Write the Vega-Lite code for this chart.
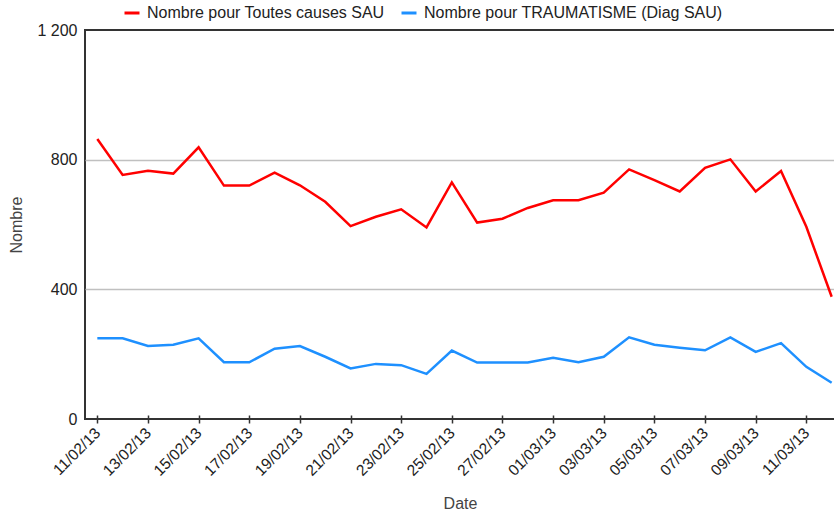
{
  "$schema": "https://vega.github.io/schema/vega-lite/v6.json",
  "autosize": {"type": "none"},
  "padding": {"left": 85, "top": 30, "right": 0, "bottom": 95},
  "width": 750,
  "height": 389,
  "background": "white",
  "config": {
    "font": "Liberation Sans",
    "view": {"stroke": "#333333", "strokeWidth": 2}
  },
  "data": {
    "values": [
      {"date": "2013-02-11", "serie": "Nombre pour Toutes causes SAU", "value": 864},
      {"date": "2013-02-12", "serie": "Nombre pour Toutes causes SAU", "value": 753},
      {"date": "2013-02-13", "serie": "Nombre pour Toutes causes SAU", "value": 766},
      {"date": "2013-02-14", "serie": "Nombre pour Toutes causes SAU", "value": 757},
      {"date": "2013-02-15", "serie": "Nombre pour Toutes causes SAU", "value": 838},
      {"date": "2013-02-16", "serie": "Nombre pour Toutes causes SAU", "value": 720},
      {"date": "2013-02-17", "serie": "Nombre pour Toutes causes SAU", "value": 720},
      {"date": "2013-02-18", "serie": "Nombre pour Toutes causes SAU", "value": 760},
      {"date": "2013-02-19", "serie": "Nombre pour Toutes causes SAU", "value": 721},
      {"date": "2013-02-20", "serie": "Nombre pour Toutes causes SAU", "value": 670},
      {"date": "2013-02-21", "serie": "Nombre pour Toutes causes SAU", "value": 595},
      {"date": "2013-02-22", "serie": "Nombre pour Toutes causes SAU", "value": 624},
      {"date": "2013-02-23", "serie": "Nombre pour Toutes causes SAU", "value": 647},
      {"date": "2013-02-24", "serie": "Nombre pour Toutes causes SAU", "value": 591},
      {"date": "2013-02-25", "serie": "Nombre pour Toutes causes SAU", "value": 730},
      {"date": "2013-02-26", "serie": "Nombre pour Toutes causes SAU", "value": 606},
      {"date": "2013-02-27", "serie": "Nombre pour Toutes causes SAU", "value": 618},
      {"date": "2013-02-28", "serie": "Nombre pour Toutes causes SAU", "value": 651},
      {"date": "2013-03-01", "serie": "Nombre pour Toutes causes SAU", "value": 675},
      {"date": "2013-03-02", "serie": "Nombre pour Toutes causes SAU", "value": 675},
      {"date": "2013-03-03", "serie": "Nombre pour Toutes causes SAU", "value": 698},
      {"date": "2013-03-04", "serie": "Nombre pour Toutes causes SAU", "value": 770},
      {"date": "2013-03-05", "serie": "Nombre pour Toutes causes SAU", "value": 737},
      {"date": "2013-03-06", "serie": "Nombre pour Toutes causes SAU", "value": 702},
      {"date": "2013-03-07", "serie": "Nombre pour Toutes causes SAU", "value": 775},
      {"date": "2013-03-08", "serie": "Nombre pour Toutes causes SAU", "value": 801},
      {"date": "2013-03-09", "serie": "Nombre pour Toutes causes SAU", "value": 702},
      {"date": "2013-03-10", "serie": "Nombre pour Toutes causes SAU", "value": 765},
      {"date": "2013-03-11", "serie": "Nombre pour Toutes causes SAU", "value": 593},
      {"date": "2013-03-12", "serie": "Nombre pour Toutes causes SAU", "value": 377},
      {"date": "2013-02-11", "serie": "Nombre pour TRAUMATISME (Diag SAU)", "value": 249},
      {"date": "2013-02-12", "serie": "Nombre pour TRAUMATISME (Diag SAU)", "value": 249},
      {"date": "2013-02-13", "serie": "Nombre pour TRAUMATISME (Diag SAU)", "value": 225},
      {"date": "2013-02-14", "serie": "Nombre pour TRAUMATISME (Diag SAU)", "value": 229},
      {"date": "2013-02-15", "serie": "Nombre pour TRAUMATISME (Diag SAU)", "value": 249},
      {"date": "2013-02-16", "serie": "Nombre pour TRAUMATISME (Diag SAU)", "value": 175},
      {"date": "2013-02-17", "serie": "Nombre pour TRAUMATISME (Diag SAU)", "value": 175},
      {"date": "2013-02-18", "serie": "Nombre pour TRAUMATISME (Diag SAU)", "value": 217},
      {"date": "2013-02-19", "serie": "Nombre pour TRAUMATISME (Diag SAU)", "value": 225},
      {"date": "2013-02-20", "serie": "Nombre pour TRAUMATISME (Diag SAU)", "value": 192},
      {"date": "2013-02-21", "serie": "Nombre pour TRAUMATISME (Diag SAU)", "value": 156},
      {"date": "2013-02-22", "serie": "Nombre pour TRAUMATISME (Diag SAU)", "value": 170},
      {"date": "2013-02-23", "serie": "Nombre pour TRAUMATISME (Diag SAU)", "value": 166},
      {"date": "2013-02-24", "serie": "Nombre pour TRAUMATISME (Diag SAU)", "value": 139},
      {"date": "2013-02-25", "serie": "Nombre pour TRAUMATISME (Diag SAU)", "value": 211},
      {"date": "2013-02-26", "serie": "Nombre pour TRAUMATISME (Diag SAU)", "value": 174},
      {"date": "2013-02-27", "serie": "Nombre pour TRAUMATISME (Diag SAU)", "value": 174},
      {"date": "2013-02-28", "serie": "Nombre pour TRAUMATISME (Diag SAU)", "value": 174},
      {"date": "2013-03-01", "serie": "Nombre pour TRAUMATISME (Diag SAU)", "value": 189},
      {"date": "2013-03-02", "serie": "Nombre pour TRAUMATISME (Diag SAU)", "value": 175},
      {"date": "2013-03-03", "serie": "Nombre pour TRAUMATISME (Diag SAU)", "value": 192},
      {"date": "2013-03-04", "serie": "Nombre pour TRAUMATISME (Diag SAU)", "value": 252},
      {"date": "2013-03-05", "serie": "Nombre pour TRAUMATISME (Diag SAU)", "value": 229},
      {"date": "2013-03-06", "serie": "Nombre pour TRAUMATISME (Diag SAU)", "value": 220},
      {"date": "2013-03-07", "serie": "Nombre pour TRAUMATISME (Diag SAU)", "value": 212},
      {"date": "2013-03-08", "serie": "Nombre pour TRAUMATISME (Diag SAU)", "value": 252},
      {"date": "2013-03-09", "serie": "Nombre pour TRAUMATISME (Diag SAU)", "value": 207},
      {"date": "2013-03-10", "serie": "Nombre pour TRAUMATISME (Diag SAU)", "value": 234},
      {"date": "2013-03-11", "serie": "Nombre pour TRAUMATISME (Diag SAU)", "value": 161},
      {"date": "2013-03-12", "serie": "Nombre pour TRAUMATISME (Diag SAU)", "value": 112}
    ]
  },
  "mark": {"type": "line", "strokeWidth": 2.5, "strokeJoin": "miter"},
  "encoding": {
    "x": {
      "field": "date",
      "type": "temporal",
      "scale": {
        "type": "utc",
        "domain": [
          {"year": 2013, "month": 2, "date": 10, "hours": 12, "minutes": 19, "utc": true},
          {"year": 2013, "month": 3, "date": 12, "hours": 3, "minutes": 10, "utc": true}
        ]
      },
      "axis": {
        "title": "Date",
        "values": [
          {"year": 2013, "month": 2, "date": 11, "utc": true},
          {"year": 2013, "month": 2, "date": 13, "utc": true},
          {"year": 2013, "month": 2, "date": 15, "utc": true},
          {"year": 2013, "month": 2, "date": 17, "utc": true},
          {"year": 2013, "month": 2, "date": 19, "utc": true},
          {"year": 2013, "month": 2, "date": 21, "utc": true},
          {"year": 2013, "month": 2, "date": 23, "utc": true},
          {"year": 2013, "month": 2, "date": 25, "utc": true},
          {"year": 2013, "month": 2, "date": 27, "utc": true},
          {"year": 2013, "month": 3, "date": 1, "utc": true},
          {"year": 2013, "month": 3, "date": 3, "utc": true},
          {"year": 2013, "month": 3, "date": 5, "utc": true},
          {"year": 2013, "month": 3, "date": 7, "utc": true},
          {"year": 2013, "month": 3, "date": 9, "utc": true},
          {"year": 2013, "month": 3, "date": 11, "utc": true}
        ],
        "labelExpr": "utcFormat(datum.value, '%d/%m/%y')",
        "labelAngle": -45,
        "labelAlign": "right",
        "labelBaseline": "middle",
        "labelPadding": 7,
        "labelFontSize": 15.5,
        "labelColor": "#222222",
        "labelFlush": false,
        "labelOverlap": false,
        "domain": false,
        "grid": false,
        "offset": -4,
        "ticks": true,
        "tickSize": 8,
        "tickWidth": 1.5,
        "tickColor": "#333333",
        "titleFontSize": 16,
        "titleFontWeight": "normal",
        "titleColor": "#444444",
        "titlePadding": 17
      }
    },
    "y": {
      "field": "value",
      "type": "quantitative",
      "scale": {"domain": [0, 1200], "nice": false, "zero": true},
      "axis": {
        "title": "Nombre",
        "values": [0, 400, 800, 1200],
        "labelExpr": "replace(format(datum.value, ','), ',', ' ')",
        "labelFontSize": 16,
        "labelColor": "#222222",
        "labelPadding": 8,
        "ticks": false,
        "domain": false,
        "grid": true,
        "gridColor": {"condition": {"test": "datum.value === 0 || datum.value === 1200", "value": "transparent"}, "value": "#c0c0c0"},
        "gridWidth": 1.5,
        "titleFontSize": 16,
        "titleFontWeight": "normal",
        "titleColor": "#444444",
        "titlePadding": 12
      }
    },
    "color": {
      "field": "serie",
      "type": "nominal",
      "scale": {
        "domain": ["Nombre pour Toutes causes SAU", "Nombre pour TRAUMATISME (Diag SAU)"],
        "range": ["#ff0000", "#1e90ff"]
      },
      "legend": {
        "title": null,
        "orient": "none",
        "legendX": 38,
        "legendY": -26,
        "direction": "horizontal",
        "symbolType": "stroke",
        "symbolSize": 225,
        "symbolStrokeWidth": 3,
        "labelFontSize": 16,
        "labelColor": "#222222",
        "labelOffset": 6,
        "columnPadding": 10,
        "labelLimit": 400
      }
    }
  }
}
